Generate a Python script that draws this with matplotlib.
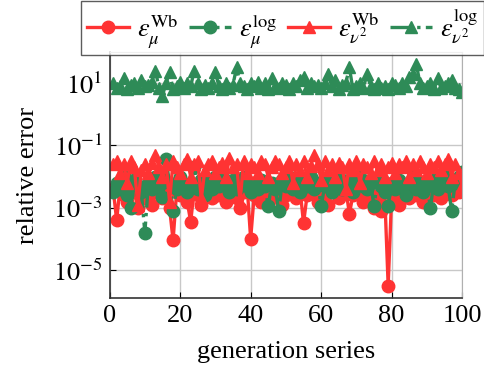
import numpy as np
import matplotlib
matplotlib.use("Agg")
import matplotlib.pyplot as plt

plt.rcParams['font.family'] = ['Liberation Serif', 'DejaVu Serif']
plt.rcParams['mathtext.fontset'] = 'stix'

x = list(range(1, 101))

# log10 values
mu_wb_exp = [-2.4,-3.4,-2.3,-2.6,-2.8,-2.2,-2.5,-3.0,-2.4,-2.7, -2.3,-2.9,-2.5,-2.2,-2.7,-2.4,-3.0,-4.05,-2.5,-2.6,
             -2.3,-2.8,-3.45,-2.4,-2.6,-2.9,-2.3,-2.5,-2.7,-2.4, -2.6,-2.3,-2.8,-2.5,-2.4,-2.7,-3.0,-2.5,-2.3,-4.0,
             -2.6,-2.4,-2.8,-2.5,-2.3,-2.7,-2.5,-2.4,-2.9,-2.6, -2.3,-2.5,-2.7,-2.4,-3.5,-2.6,-2.3,-2.5,-2.8,-2.4,
             -2.6,-2.9,-2.5,-2.3,-2.7,-2.5,-2.4,-3.2,-2.6,-2.3, -2.5,-2.8,-2.4,-2.6,-3.0,-2.7,-3.1,-2.5,-5.5,-2.6,
             -2.4,-2.9,-2.5,-2.3,-2.7,-2.5,-2.6,-2.4,-2.8,-2.5, -2.3,-2.6,-2.4,-2.7,-2.5,-2.3,-2.6,-2.4,-2.5,-2.4]
mu_log_exp = [-2.5,-2.2,-2.4,-1.9,-2.6,-3.0,-2.1,-2.3,-2.5,-3.8, -2.2,-2.4,-2.0,-2.3,-2.65,-1.45,-2.2,-3.1,-2.4,-2.0,
              -2.3,-2.5,-2.2,-1.7,-2.4,-2.1,-2.6,-2.2,-2.4,-2.0, -2.3,-1.9,-2.2,-2.5,-2.1,-2.4,-2.2,-2.0,-2.3,-2.5,
              -2.2,-2.4,-2.1,-2.3,-2.95,-2.2,-2.4,-3.1,-2.1,-2.3, -2.0,-2.4,-2.2,-2.5,-2.1,-2.3,-2.0,-2.4,-2.2,-2.95,
              -2.3,-2.1,-2.5,-2.2,-2.0,-2.4,-2.3,-2.1,-2.5,-2.2, -2.0,-2.3,-2.4,-2.2,-2.95,-2.1,-2.3,-2.5,-2.95,-2.2,
              -2.4,-2.1,-2.3,-2.6,-2.2,-2.0,-2.4,-2.2,-2.5,-2.3, -3.0,-2.1,-2.4,-2.2,-1.9,-2.3,-3.1,-2.2,-2.0,-1.85]
nu_wb_exp = [-1.6,-1.5,-1.9,-1.6,-2.2,-1.5,-1.7,-2.9,-1.8,-1.6, -1.9,-1.55,-1.3,-1.7,-2.0,-1.6,-2.8,-1.5,-1.7,-1.9,
             -1.6,-1.45,-2.0,-1.6,-1.5,-2.7,-1.8,-1.6,-1.5,-1.9, -1.7,-1.55,-2.0,-1.4,-1.7,-1.6,-2.8,-1.5,-1.9,-1.6,
             -1.7,-1.9,-1.5,-1.6,-2.0,-1.7,-1.5,-1.6,-1.9,-1.7, -1.5,-2.2,-1.6,-1.8,-1.5,-2.0,-1.65,-1.3,-1.6,-2.1,
             -1.5,-1.8,-1.6,-2.0,-1.55,-1.7,-2.4,-1.6,-1.8,-1.5, -2.2,-1.6,-1.7,-1.9,-1.5,-1.8,-1.6,-2.0,-1.7,-1.55,
             -1.9,-1.6,-1.7,-1.5,-2.0,-1.6,-1.8,-1.5,-1.7,-1.9, -1.6,-1.7,-1.5,-1.8,-1.6,-1.45,-2.0,-1.6,-1.9,-2.3]
nu_log_exp = [1.0,0.85,0.9,1.15,0.8,0.95,1.0,0.85,1.1,0.9, 0.95,1.05,1.4,0.85,0.6,1.0,1.35,0.8,0.9,1.05,
              0.85,1.0,0.9,1.4,1.0,0.8,0.95,0.85,1.0,1.35, 0.9,0.8,1.0,0.85,0.95,1.5,1.0,0.9,0.8,1.0,
              0.9,1.05,0.85,1.0,0.8,1.15,0.9,0.85,1.0,0.95, 0.8,1.0,0.9,1.1,1.2,0.85,1.0,0.9,0.95,0.85,
              1.0,1.3,0.9,1.1,0.8,0.95,1.0,1.5,0.8,0.9, 1.0,0.85,1.3,0.9,0.8,1.0,0.85,0.9,0.8,1.0,
              0.95,0.85,1.0,0.9,1.2,1.3,1.6,1.0,0.85,0.9, 1.0,0.8,1.15,0.85,0.9,1.0,1.1,0.85,0.8,0.7]

mu_wb = 10.0 ** np.array(mu_wb_exp)
mu_log = 10.0 ** np.array(mu_log_exp)
nu_wb = 10.0 ** np.array(nu_wb_exp)
nu_log = 10.0 ** np.array(nu_log_exp)

red = '#ff3333'
green = '#2e8b57'

fig = plt.figure(figsize=(4.85, 3.76), dpi=100)
ax = fig.add_axes([0.226, 0.207, 0.727, 0.655])

ms = 9
lw = 2.4
ax.plot(x, mu_wb, color=red, lw=lw, ls='-', marker='o', ms=ms, label=r'$\epsilon_{\mu}^{\mathrm{Wb}}$')
ax.plot(x, mu_log, color=green, lw=lw, ls='-.', marker='o', ms=ms, label=r'$\epsilon_{\mu}^{\log}$')
ax.plot(x, nu_wb, color=red, lw=lw, ls='-', marker='^', ms=ms, label=r'$\epsilon_{\nu^2}^{\mathrm{Wb}}$')
ax.plot(x, nu_log, color=green, lw=lw, ls='-.', marker='^', ms=ms, label=r'$\epsilon_{\nu^2}^{\log}$')

ax.set_yscale('log')
ax.set_xlim(0, 100)
ax.set_ylim(10**-5.9, 10**2)
ax.set_xticks([0, 20, 40, 60, 80, 100])
ax.set_yticks([1e-5, 1e-3, 1e-1, 1e1])
ax.set_yticklabels([r'$10^{-5}$', r'$10^{-3}$', r'$10^{-1}$', r'$10^{1}$'])
ax.minorticks_off()
ax.tick_params(axis='both', direction='in', length=4, labelsize=19, top=False, right=False, pad=5)
ax.grid(True, color='#c8c8c8', lw=1.0)
ax.set_axisbelow(True)
for s in ['top', 'right']:
    ax.spines[s].set_color('#b0b0b0')
for s in ['left', 'bottom']:
    ax.spines[s].set_color('#333333')
    ax.spines[s].set_linewidth(1.2)

ax.set_xlabel('generation series', fontsize=19, labelpad=10)
ax.set_ylabel('relative error', fontsize=19, labelpad=10)

leg = fig.legend(loc='upper right', bbox_to_anchor=(0.998, 0.998), ncol=4, fontsize=19,
                 frameon=True, fancybox=False, edgecolor='#333333', borderpad=0.2,
                 handlelength=1.6, handletextpad=0.3, columnspacing=0.4, borderaxespad=0.0)
leg.get_frame().set_linewidth(1.0)

fig.savefig('out.png', dpi=100)
